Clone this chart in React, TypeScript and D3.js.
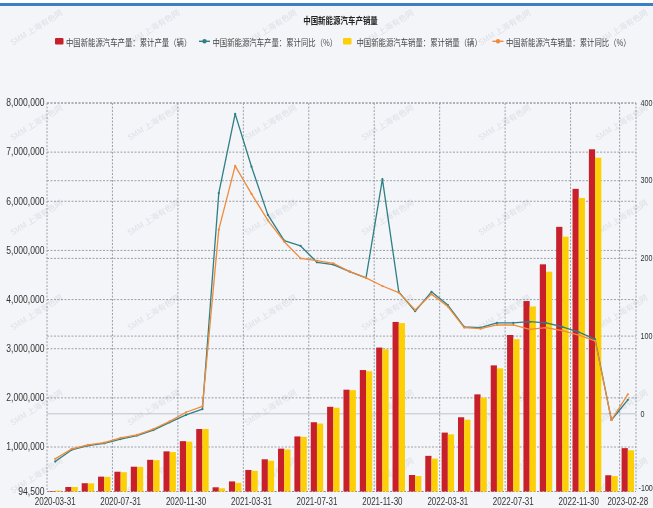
import React from "react";
import * as d3 from "d3";

// Month-end categories (cumulative figures, 2020-03 .. 2023-02)
const months = [
  "2020-03-31", "2020-04-30", "2020-05-31", "2020-06-30", "2020-07-31", "2020-08-31",
  "2020-09-30", "2020-10-31", "2020-11-30", "2020-12-31",
  "2021-01-31", "2021-02-28", "2021-03-31", "2021-04-30", "2021-05-31", "2021-06-30",
  "2021-07-31", "2021-08-31", "2021-09-30", "2021-10-31", "2021-11-30", "2021-12-31",
  "2022-01-31", "2022-02-28", "2022-03-31", "2022-04-30", "2022-05-31", "2022-06-30",
  "2022-07-31", "2022-08-31", "2022-09-30", "2022-10-31", "2022-11-30", "2022-12-31",
  "2023-01-31", "2023-02-28",
];

// 累计产量（辆）
const production = [
  105000, 186000, 263000, 397000, 497000, 599000, 739000, 911000, 1119000, 1366000,
  180000, 300000, 533000, 750000, 967000, 1215000, 1504000, 1818000, 2166000, 2566000,
  3023000, 3545000,
  430000, 820000, 1293000, 1605000, 2071000, 2661000, 3279000, 3970000, 4717000, 5480000,
  6253000, 7058000,
  425000, 977000,
];

// 累计销量（辆）
const sales = [
  114000, 186000, 261000, 393000, 487000, 596000, 732000, 897000, 1109000, 1367000,
  160000, 270000, 515000, 721000, 950000, 1206000, 1478000, 1799000, 2157000, 2542000,
  2990000, 3521000,
  410000, 764000, 1257000, 1556000, 2003000, 2600000, 3194000, 3860000, 4567000, 5280000,
  6067000, 6887000,
  408000, 933000,
];

// 产量累计同比（%）
const productionYoY = [
  -61.5, -46.5, -41, -38, -32.5, -28, -21, -11, -1.5, 6,
  284, 386, 318, 256, 223, 216, 195, 192, 183, 175, 302, 157,
  132, 157, 140, 112, 111, 117, 117, 118.5, 117, 112, 105, 96,
  -8, 18,
];

// 销量累计同比（%）
const salesYoY = [
  -58, -45.3, -40, -37, -31, -27, -19.6, -9.7, 2, 9.5,
  237, 319, 283, 249, 221.5, 200, 197, 193.7, 183, 175, 164.5, 156,
  133.6, 154, 138, 111, 109.5, 114.3, 114.3, 108.7, 110.8, 107, 101.4, 94,
  -8, 25,
];

const tickMonths = [
  "2020-03-31", "2020-07-31", "2020-11-30", "2021-03-31", "2021-07-31",
  "2021-11-30", "2022-03-31", "2022-07-31", "2022-11-30", "2023-02-28",
];
const leftTicks = [94500, 1000000, 2000000, 3000000, 4000000, 5000000, 6000000, 7000000, 8000000];
const rightTicks = [-100, 0, 100, 200, 300, 400];

const title = "中国新能源汽车产销量";
const legendLabels = [
  "中国新能源汽车产量：累计产量（辆）",
  "中国新能源汽车产量：累计同比（%）",
  "中国新能源汽车销量：累计销量（辆）",
  "中国新能源汽车销量：累计同比（%）",
];
const watermark = "SMM 上海有色网";

const W = 653;
const H = 508;
const M = { left: 47, right: 636, top: 103, bottom: 491.5 };

const RED = "#c8202b";
const YELLOW = "#fdd005";
const TEAL = "#2f7f85";
const ORANGE = "#ef8b3a";
const BG = "#f3f5f8";
const GRID = "#858b93";
const TEXT = "#333";
const NUM_FONT = "'Liberation Sans', Arial, sans-serif";
const CJK_FONT = "'Noto Sans CJK SC', 'Noto Sans', sans-serif";

const fmt = d3.format(",");

function Squeezed({ x, y, sx, anchor = "start", size, weight = "normal", font, fill = TEXT, children }: any) {
  return (
    <text
      transform={`translate(${x},${y}) scale(${sx},1)`}
      textAnchor={anchor}
      dominantBaseline="central"
      fontSize={size}
      fontWeight={weight}
      fontFamily={font}
      fill={fill}
    >
      {children}
    </text>
  );
}

export default function App() {
  const x = d3.scaleBand<string>().domain(months).range([M.left, M.right]).paddingInner(0).paddingOuter(0);
  const bw = x.bandwidth();
  const sub = d3.scaleBand<string>().domain(["prod", "sales"]).range([bw * 0.12, bw * 0.88]);
  const yL = d3.scaleLinear().domain([94500, 8000000]).range([M.bottom, M.top]);
  const yR = d3.scaleLinear().domain([-100, 400]).range([M.bottom, M.top]);
  const cx = (m: string) => (x(m) as number) + bw / 2;

  const lineGen = d3
    .line<number>()
    .x((_, i) => cx(months[i]))
    .y((v) => yR(v));

  const vGrid = [
    ...tickMonths.map((m) => x(m) as number),
    M.right,
  ];

  const wmX = [38, 155, 272, 389, 506, 623];
  const wmY = [30, 125, 220, 315, 410, 478];

  const legendItems = [
    { kind: "rect", color: RED, mx: 55, tx: 66, label: legendLabels[0] },
    { kind: "line", color: TEAL, mx: 199, tx: 212.5, label: legendLabels[1] },
    { kind: "rect", color: YELLOW, mx: 343, tx: 356.5, label: legendLabels[2] },
    { kind: "line", color: ORANGE, mx: 492.5, tx: 506, label: legendLabels[3] },
  ];

  return (
    <svg
      width={W}
      height={H}
      viewBox={`0 0 ${W} ${H}`}
      style={{ position: "absolute", left: 0, top: 0, display: "block" }}
    >
      <rect x={0} y={0} width={W} height={H} fill={BG} />
      <rect x={0} y={0} width={W} height={3} fill="#ffffff" />
      <rect x={0} y={3} width={W} height={3} fill="#3b80c6" />

      {/* faint watermark pattern */}
      <g fontFamily={CJK_FONT} fontSize={8} fill="#c9ced6" opacity={0.55}>
        {wmY.map((wy) =>
          wmX.map((wx) => (
            <text key={`${wx}-${wy}`} transform={`translate(${wx},${wy}) rotate(-32)`} textAnchor="middle">
              {watermark}
            </text>
          ))
        )}
      </g>

      {/* title */}
      <Squeezed x={340.5} y={19.5} sx={0.83} anchor="middle" size={9} weight="bold" font={CJK_FONT} fill="#222">
        {title}
      </Squeezed>

      {/* legend */}
      {legendItems.map((it) => (
        <g key={it.label}>
          {it.kind === "rect" ? (
            <rect x={it.mx} y={38} width={8.5} height={6.5} rx={1} fill={it.color} />
          ) : (
            <g>
              <line x1={it.mx} x2={it.mx + 11} y1={41.3} y2={41.3} stroke={it.color} strokeWidth={1.4} />
              <circle cx={it.mx + 5.5} cy={41.3} r={2.2} fill={it.color} />
            </g>
          )}
          <Squeezed x={it.tx} y={41.5} sx={0.82} size={9} font={CJK_FONT} fill="#444">
            {it.label}
          </Squeezed>
        </g>
      ))}

      {/* horizontal grid: left axis ticks */}
      {leftTicks.map((t) => (
        <line key={`gl${t}`} x1={M.left} x2={M.right} y1={yL(t)} y2={yL(t)}
          stroke={GRID} strokeWidth={0.8} strokeDasharray="2,1.5" />
      ))}
      {/* horizontal grid: right axis ticks */}
      {rightTicks.map((t) => (
        <line key={`gr${t}`} x1={M.left} x2={M.right} y1={yR(t)} y2={yR(t)}
          stroke={t === 0 ? "#bfc4cb" : GRID} strokeWidth={t === 0 ? 1 : 0.8}
          strokeDasharray={t === 0 ? undefined : "2,1.5"} />
      ))}
      {/* vertical grid */}
      {vGrid.map((gx, i) => (
        <line key={`v${i}`} x1={gx} x2={gx} y1={M.top} y2={M.bottom}
          stroke={GRID} strokeWidth={0.8} strokeDasharray="2,1.5" />
      ))}

      {/* bars */}
      <g>
        {months.map((m, i) => (
          <g key={m}>
            <rect x={(x(m) as number) + (sub("prod") as number)} y={yL(production[i])}
              width={sub.bandwidth()} height={M.bottom - yL(production[i])} fill={RED} />
            <rect x={(x(m) as number) + (sub("sales") as number)} y={yL(sales[i])}
              width={sub.bandwidth()} height={M.bottom - yL(sales[i])} fill={YELLOW} />
          </g>
        ))}
      </g>

      {/* YoY lines */}
      {[
        { data: productionYoY, color: TEAL },
        { data: salesYoY, color: ORANGE },
      ].map((s, k) => (
        <g key={k}>
          <path d={lineGen(s.data) as string} fill="none" stroke={s.color} strokeWidth={1.3} strokeLinejoin="round" />
          {s.data.map((v, i) => (
            <circle key={i} cx={cx(months[i])} cy={yR(v)} r={1.1} fill={s.color} />
          ))}
        </g>
      ))}

      {/* left axis labels */}
      {leftTicks.map((t) => (
        <Squeezed key={`ll${t}`} x={44.5} y={yL(t)} sx={0.86} anchor="end" size={10} font={NUM_FONT}>
          {fmt(t)}
        </Squeezed>
      ))}

      {/* right axis labels */}
      {rightTicks.map((t) => (
        <Squeezed key={`rl${t}`} x={t < 0 ? 638.5 : 640.5} y={t < 0 ? yR(t) - 3 : yR(t)} sx={0.8} size={9} font={NUM_FONT}>
          {String(t)}
        </Squeezed>
      ))}

      {/* x axis labels */}
      {tickMonths.map((m) => (
        <Squeezed key={`xl${m}`} x={cx(m)} y={501.5} sx={0.8} anchor="middle" size={10} font={NUM_FONT}>
          {m}
        </Squeezed>
      ))}
    </svg>
  );
}
